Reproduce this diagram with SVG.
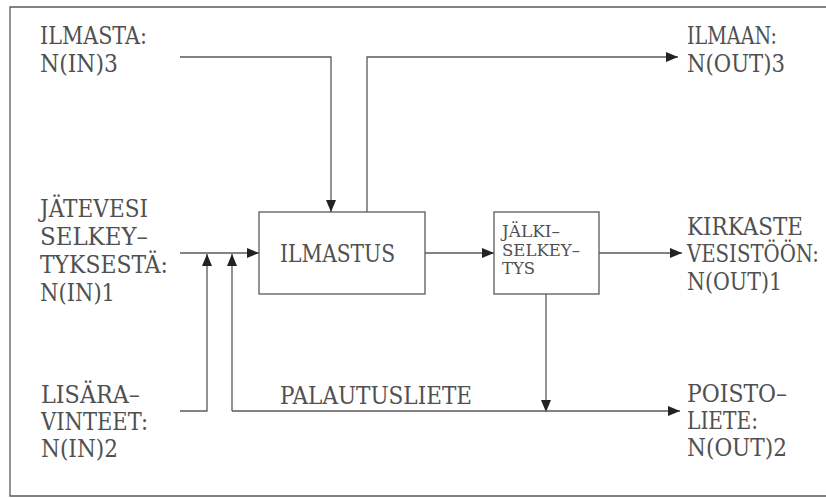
<svg xmlns="http://www.w3.org/2000/svg" width="826" height="498" viewBox="0 0 826 498">
<style>
.t{font-family:"DejaVu Serif","Liberation Serif",serif;font-size:24px;fill:#505050}
.s{font-family:"DejaVu Serif","Liberation Serif",serif;font-size:16px;fill:#505050}
.ln{fill:none;stroke:#5a5a5a;stroke-width:1.3}
.box{fill:#fff;stroke:#5a5a5a;stroke-width:1.3}
</style>
<defs>
<marker id="ah" viewBox="0 0 12 10" refX="12" refY="5" markerWidth="12" markerHeight="10" markerUnits="userSpaceOnUse" orient="auto">
<path d="M0,0 L12,5 L0,10 Z" fill="#222"/>
</marker>
</defs>
<rect width="826" height="498" fill="#fff"/>
<path class="ln" d="M826,7 H10 V496 H826"/>

<g id="connectors">
<path class="ln" d="M180,57 H331 V212" marker-end="url(#ah)"/>
<path class="ln" d="M367,212 V57 H678" marker-end="url(#ah)"/>
<path class="ln" d="M180,253 H259" marker-end="url(#ah)"/>
<path class="ln" d="M180,411 H207 V254" marker-end="url(#ah)"/>
<path class="ln" d="M546,294 V412" marker-end="url(#ah)"/>
<path class="ln" d="M232,411 V254" marker-end="url(#ah)"/>
<path class="ln" d="M232,411 H680" marker-end="url(#ah)"/>
<path class="ln" d="M425,253 H494" marker-end="url(#ah)"/>
<path class="ln" d="M599,253 H682" marker-end="url(#ah)"/>
</g>

<g id="in3">
<text class="t" x="40" y="44" textLength="107" lengthAdjust="spacingAndGlyphs">ILMASTA:</text>
<text class="t" x="40" y="72" textLength="78" lengthAdjust="spacingAndGlyphs">N(IN)3</text>
</g>
<g id="in1">
<text class="t" x="40" y="217" textLength="108" lengthAdjust="spacingAndGlyphs">JÄTEVESI</text>
<text class="t" x="40" y="245" textLength="108" lengthAdjust="spacingAndGlyphs">SELKEY–</text>
<text class="t" x="40" y="273" textLength="128" lengthAdjust="spacingAndGlyphs">TYKSESTÄ:</text>
<text class="t" x="40" y="301" textLength="75" lengthAdjust="spacingAndGlyphs">N(IN)1</text>
</g>
<g id="in2">
<text class="t" x="41" y="403" textLength="99" lengthAdjust="spacingAndGlyphs">LISÄRA–</text>
<text class="t" x="41" y="430" textLength="107" lengthAdjust="spacingAndGlyphs">VINTEET:</text>
<text class="t" x="41" y="457" textLength="77" lengthAdjust="spacingAndGlyphs">N(IN)2</text>
</g>
<g id="ilmastus">
<rect class="box" x="259" y="212" width="166" height="82"/>
<text class="t" x="280" y="262" textLength="115" lengthAdjust="spacingAndGlyphs">ILMASTUS</text>
</g>
<g id="jalkiselkeytys">
<rect class="box" x="494" y="212" width="105" height="82"/>
<text class="s" x="502" y="237" textLength="58" lengthAdjust="spacingAndGlyphs">JÄLKI–</text>
<text class="s" x="502" y="256" textLength="78" lengthAdjust="spacingAndGlyphs">SELKEY–</text>
<text class="s" x="502" y="274" textLength="33" lengthAdjust="spacingAndGlyphs">TYS</text>
</g>
<g id="palautusliete">
<text class="t" x="280" y="404" textLength="192" lengthAdjust="spacingAndGlyphs">PALAUTUSLIETE</text>
</g>
<g id="out3">
<text class="t" x="687" y="44" textLength="90" lengthAdjust="spacingAndGlyphs">ILMAAN:</text>
<text class="t" x="687" y="72" textLength="98" lengthAdjust="spacingAndGlyphs">N(OUT)3</text>
</g>
<g id="out1">
<text class="t" x="687" y="235" textLength="116" lengthAdjust="spacingAndGlyphs">KIRKASTE</text>
<text class="t" x="687" y="262" textLength="132" lengthAdjust="spacingAndGlyphs">VESISTÖÖN:</text>
<text class="t" x="687" y="290" textLength="95" lengthAdjust="spacingAndGlyphs">N(OUT)1</text>
</g>
<g id="out2">
<text class="t" x="687" y="402" textLength="100" lengthAdjust="spacingAndGlyphs">POISTO–</text>
<text class="t" x="687" y="429" textLength="71" lengthAdjust="spacingAndGlyphs">LIETE:</text>
<text class="t" x="687" y="456" textLength="100" lengthAdjust="spacingAndGlyphs">N(OUT)2</text>
</g>
</svg>
